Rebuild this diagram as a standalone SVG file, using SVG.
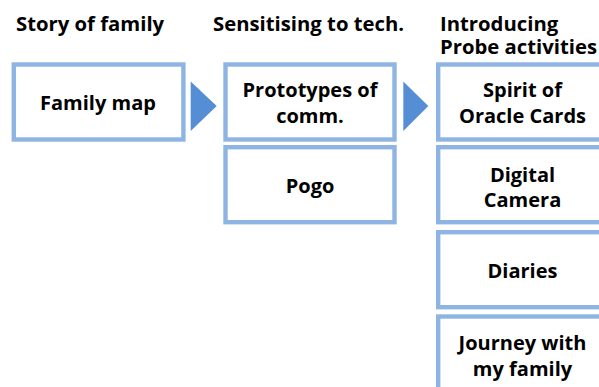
<svg xmlns="http://www.w3.org/2000/svg" width="599" height="387" viewBox="0 0 599 387">
  <style>
    .box { fill: #ffffff; stroke: #8eb4e3; stroke-width: 4.4; }
    .lbl { font-family: "Open Sans", "Noto Sans", "DejaVu Sans", sans-serif; font-weight: 700; font-size: 20px; fill: #000000; }
    .mid { text-anchor: middle; }
    .head { font-family: "Open Sans", "Noto Sans", "DejaVu Sans", sans-serif; font-weight: 700; font-size: 20.3px; fill: #000000; }
    .step { fill: #558ed5; }
  </style>
  <rect width="599" height="387" fill="#ffffff"/>

  <!-- Column headings -->
  <g id="headings">
    <text class="head" x="16" y="31">Story of family</text>
    <text class="head" x="213" y="31">Sensitising to tech.</text>
    <text class="head" x="440" y="30.5">Introducing</text>
    <text class="head" x="440" y="54">Probe activities</text>
  </g>

  <!-- Step arrows between columns -->
  <g id="connectors">
    <polygon class="step" points="190.7,81.5 216.7,106 190.7,131"/>
    <polygon class="step" points="403.3,81.5 428.3,106 403.3,131"/>
  </g>

  <!-- Column 1 -->
  <g id="family-map">
    <rect class="box" x="13.8" y="64.5" width="169.6" height="75"/>
    <text class="lbl mid" x="98" y="110">Family map</text>
  </g>

  <!-- Column 2 -->
  <g id="prototypes">
    <rect class="box" x="225.5" y="64.5" width="169" height="75"/>
    <text class="lbl mid" x="310" y="96.7">Prototypes of</text>
    <text class="lbl mid" x="310" y="123.3">comm.</text>
  </g>
  <g id="pogo">
    <rect class="box" x="225.5" y="147.2" width="169" height="75"/>
    <text class="lbl mid" x="310" y="193">Pogo</text>
  </g>

  <!-- Column 3 -->
  <g id="oracle-cards">
    <rect class="box" x="438.2" y="64.5" width="169" height="75"/>
    <text class="lbl mid" x="522.5" y="96.7">Spirit of</text>
    <text class="lbl mid" x="522.5" y="123.3">Oracle Cards</text>
  </g>
  <g id="digital-camera">
    <rect class="box" x="438.2" y="147.2" width="169" height="75"/>
    <text class="lbl mid" x="522.5" y="181.7">Digital</text>
    <text class="lbl mid" x="522.5" y="207.3">Camera</text>
  </g>
  <g id="diaries">
    <rect class="box" x="438.2" y="232.2" width="169" height="75"/>
    <text class="lbl mid" x="522.5" y="277.7">Diaries</text>
  </g>
  <g id="journey">
    <rect class="box" x="438.2" y="316.5" width="169" height="75"/>
    <text class="lbl mid" x="522.5" y="349.5">Journey with</text>
    <text class="lbl mid" x="522.5" y="375.5">my family</text>
  </g>
</svg>
